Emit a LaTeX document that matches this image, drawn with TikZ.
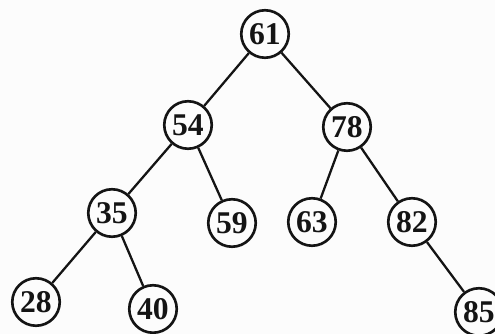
\documentclass[tikz,border=0pt]{standalone}
\usepackage{fontspec}
\setmainfont{Liberation Serif}
\usetikzlibrary{arrows.meta,positioning,calc}
\definecolor{inkBlack}{RGB}{20, 20, 20}
\definecolor{paperWhite}{RGB}{252, 252, 252}

\tikzset{
    bstnode/.style={draw=inkBlack, circle, line width=1.5pt, minimum size=0.95cm, inner sep=0pt,
        font=\fontsize{18pt}{20pt}\selectfont\bfseries, text=inkBlack},
    bstedge/.style={draw=inkBlack, line width=1.3pt}
}

\begin{document}
\begin{tikzpicture}[x=0.02cm, y=-0.02cm]
                \fill[paperWhite] (0,0) rectangle (495,334);
                \useasboundingbox (0,0) rectangle (495,334);
                % keys of the tree
                \node[bstnode] (n61) at (265,34) {61};
                \node[bstnode] (n54) at (188,125) {54};
                \node[bstnode] (n78) at (347,127) {78};
                \node[bstnode] (n35) at (112,213) {35};
                \node[bstnode] (n59) at (232,223) {59};
                \node[bstnode] (n63) at (312,222) {63};
                \node[bstnode] (n82) at (412,222) {82};
                \node[bstnode] (n28) at (36,302) {28};
                \node[bstnode] (n40) at (153,309) {40};
                \node[bstnode] (n85) at (479,312) {85};
                % links
                \draw[bstedge] (n61) -- (n54);
                \draw[bstedge] (n61) -- (n78);
                \draw[bstedge] (n54) -- (n35);
                \draw[bstedge] (n54) -- (n59);
                \draw[bstedge] (n78) -- (n63);
                \draw[bstedge] (n78) -- (n82);
                \draw[bstedge] (n35) -- (n28);
                \draw[bstedge] (n35) -- (n40);
                \draw[bstedge] (n82) -- (n85);
            \end{tikzpicture}
\end{document}
